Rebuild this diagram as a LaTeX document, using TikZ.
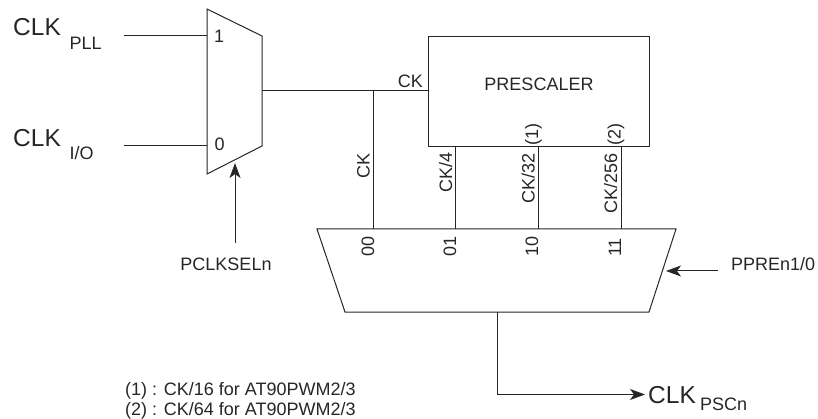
\documentclass[tikz,border=0pt]{standalone}
\usepackage{fontspec}
\setmainfont{Liberation Sans}
\usetikzlibrary{arrows.meta,calc}
\tikzset{
  x=1pt,y=-1pt,
  wire/.style={line width=1pt,draw=black!85},
  arrowwire/.style={wire,-{Stealth[length=15pt,width=11pt,inset=4pt]}},
  lab/.style={inner sep=0pt,font=\fontsize{18}{20}\selectfont,text=black!85},
  biglab/.style={inner sep=0pt,font=\fontsize{24.5}{28}\selectfont,text=black!85},
  rotlab/.style={lab,rotate=90},
  blockbox/.style={wire,draw,inner sep=0pt,minimum width=221pt,minimum height=110pt},
}
\begin{document}
\begin{tikzpicture}
\useasboundingbox (0,0) rectangle (818,419);
% upper mux
\coordinate (m1) at (207,9);
\coordinate (m2) at (262,36);
\coordinate (m3) at (262,146);
\coordinate (m4) at (207,174);
\draw[wire,line join=miter] (m1)--(m2)--(m3)--(m4)--cycle;
% prescaler
\node[blockbox,anchor=north west] (pre) at (428,36) {};
\node[lab,anchor=base] (pretxt) at (539,91) {PRESCALER};
% lower mux
\coordinate (l1) at (317,229);
\coordinate (l2) at (676,229);
\coordinate (l3) at (649,312);
\coordinate (l4) at (345,312);
\draw[wire,line join=miter] (l1)--(l2)--(l3)--(l4)--cycle;
% free ends
\coordinate (inA) at (124,36);
\coordinate (inAe) at (207,36);
\coordinate (inB) at (124,146);
\coordinate (inBe) at (207,146);
\coordinate (outm) at (262,91);
\coordinate (pin) at (428,91);
\coordinate (j) at (373,91);
\coordinate (j0) at (373,229);
\coordinate (a1) at (455,146); \coordinate (a2) at (455,229);
\coordinate (b1) at (538,146); \coordinate (b2) at (538,229);
\coordinate (c1) at (621,146); \coordinate (c2) at (621,229);
\coordinate (sel0) at (235,243); \coordinate (sel1) at (235,163);
\coordinate (pp0) at (718,271); \coordinate (pp1) at (666,271);
\coordinate (o0) at (497,312); \coordinate (o1) at (497,394.5); \coordinate (o2) at (645,394.5);
\draw[wire] (inA)--(inAe);
\draw[wire] (inB)--(inBe);
\draw[wire] (outm)--(pin);
\draw[wire] (j)--(j0);
\draw[wire] (a1)--(a2);
\draw[wire] (b1)--(b2);
\draw[wire] (c1)--(c2);
\draw[arrowwire] (sel0)--(sel1);
\draw[arrowwire] (pp0)--(pp1);
\draw[arrowwire] (o0)--(o1)--(o2);
% labels
\node[biglab,anchor=base west] (t1) at (13,36) {CLK};
\node[lab,anchor=base west] (t1s) at (69.5,50) {PLL};
\node[biglab,anchor=base west] (t2) at (13,147) {CLK};
\node[lab,anchor=base west] (t2s) at (69.5,160) {I/O};
\node[lab,anchor=base west] (n1) at (214,43) {1};
\node[lab,anchor=base west] (n0) at (214.5,151) {0};
\node[lab,anchor=base east] (ck) at (423,88) {CK};
\node[rotlab,anchor=base west] (ck0) at (369.5,179) {CK};
\node[rotlab,anchor=base west] (ck4) at (452,193) {CK/4};
\node[rotlab,anchor=base west] (ck32) at (534.5,204) {CK/32};
\node[rotlab,anchor=base west] (ck256) at (617,214) {CK/256};
\node[rotlab,anchor=base west] (p1) at (538,146) {(1)};
\node[rotlab,anchor=base west] (p2) at (620.5,146) {(2)};
\node[rotlab,anchor=base west] (s00) at (374,257) {00};
\node[rotlab,anchor=base west] (s01) at (456,257) {01};
\node[rotlab,anchor=base west] (s10) at (538,257) {10};
\node[rotlab,anchor=base west] (s11) at (621,257) {11};
\node[lab,anchor=base] (pclk) at (226,271) {PCLKSELn};
\node[lab,anchor=base west] (ppre) at (731,271) {PPREn1/0};
\node[biglab,anchor=base west] (t3) at (648,403) {CLK};
\node[lab,anchor=base west] (t3s) at (700,410) {PSCn};
\node[lab,anchor=base west] (f1) at (125,395) {(1) : CK/16 for AT90PWM2/3};
\node[lab,anchor=base west] (f2) at (125,415) {(2) : CK/64 for AT90PWM2/3};
\end{tikzpicture}
\end{document}
